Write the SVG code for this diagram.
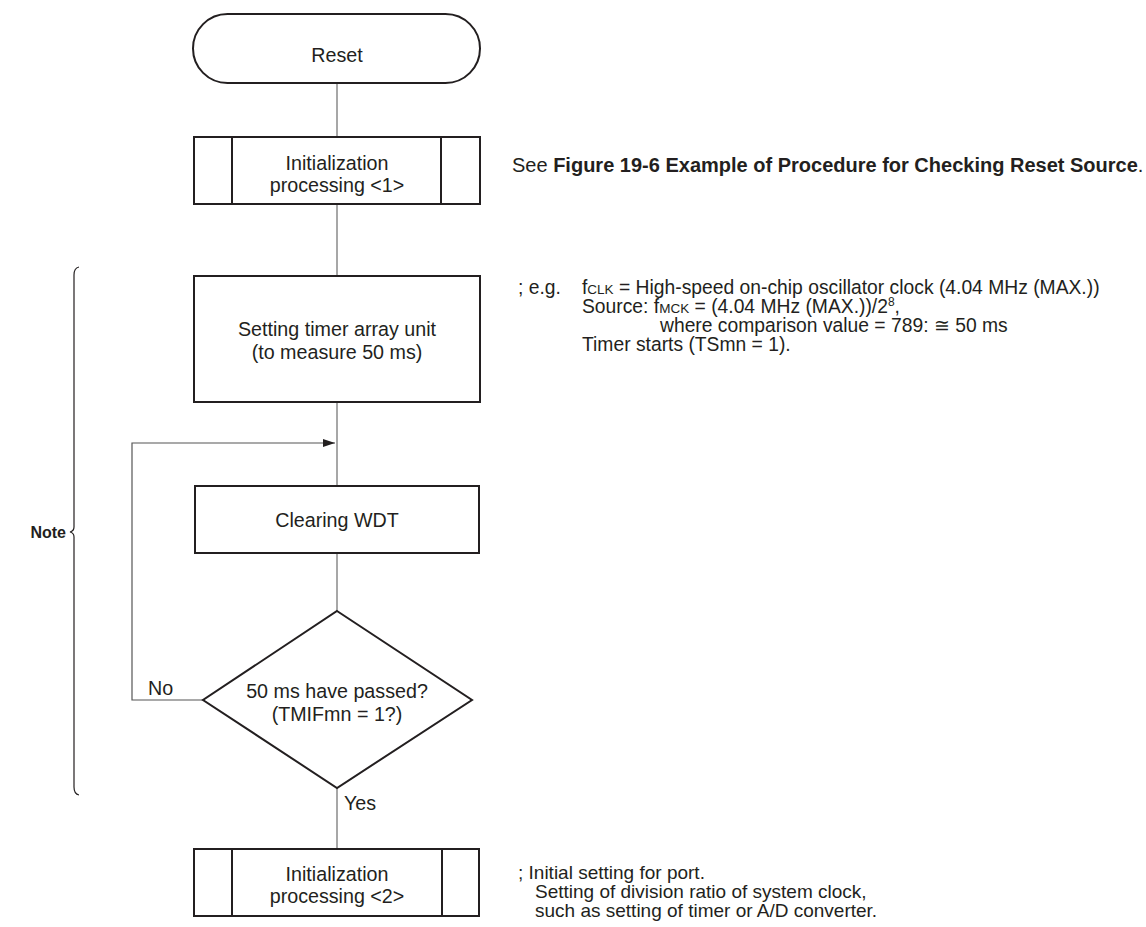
<svg xmlns="http://www.w3.org/2000/svg" width="1146" height="927" viewBox="0 0 1146 927">
<style>
text{font-family:"Liberation Sans",Arial,sans-serif;font-size:19.7px;fill:#231f20}
.c{text-anchor:middle}
.b{font-weight:bold}
.box{fill:#fff;stroke:#231f20;stroke-width:2}
.ln{fill:none;stroke:#8a8a8a;stroke-width:1.5}
.sm{font-size:13.5px}
.sup{font-size:12px}
.an{font-size:19.3px}
.an2{font-size:19px}
</style>
<defs>
<marker id="ah" markerWidth="12" markerHeight="8" refX="12" refY="4" orient="auto" markerUnits="userSpaceOnUse">
<path d="M0,0 L12,4 L0,8 z" fill="#231f20"/>
</marker>
</defs>
<rect width="1146" height="927" fill="#fff"/>
<g id="connectors">
<line class="ln" x1="337" y1="83" x2="337" y2="137"/>
<line class="ln" x1="337" y1="204" x2="337" y2="276"/>
<line class="ln" x1="337" y1="402" x2="337" y2="486"/>
<line class="ln" x1="337" y1="553" x2="337" y2="611"/>
<line class="ln" x1="337" y1="788" x2="337" y2="849"/>
<polyline fill="none" stroke="#555" stroke-width="1.2" points="203,700 132,700 132,443 335,443" marker-end="url(#ah)"/>
<text x="148" y="695">No</text>
<text x="344" y="810">Yes</text>
</g>
<g id="reset">
<rect class="box" x="193" y="14" width="287" height="69" rx="34.5" ry="34.5"/>
<text class="c" x="337" y="62">Reset</text>
</g>
<g id="init1">
<rect class="box" x="194" y="137" width="286" height="67"/>
<line class="box" x1="232" y1="137" x2="232" y2="204"/>
<line class="box" x1="441" y1="137" x2="441" y2="204"/>
<text class="c" x="337" y="170">Initialization</text>
<text class="c" x="337" y="192">processing &lt;1&gt;</text>
</g>
<g id="timer">
<rect class="box" x="194" y="276" width="286" height="126"/>
<text class="c" x="337" y="336">Setting timer array unit</text>
<text class="c" x="337" y="359">(to measure 50 ms)</text>
</g>
<g id="wdt">
<rect class="box" x="195" y="486" width="284" height="67"/>
<text class="c" x="337" y="527">Clearing WDT</text>
</g>
<g id="decision">
<polygon class="box" points="337,611 472,700 337,788 203,700"/>
<text class="c" x="337" y="698">50 ms have passed?</text>
<text class="c" x="337" y="721">(TMIFmn = 1?)</text>
</g>
<g id="init2">
<rect class="box" x="194" y="849" width="285" height="67"/>
<line class="box" x1="232" y1="849" x2="232" y2="916"/>
<line class="box" x1="442" y1="849" x2="442" y2="916"/>
<text class="c" x="337" y="881">Initialization</text>
<text class="c" x="337" y="903">processing &lt;2&gt;</text>
</g>
<g id="note">
<path d="M79,267 Q74,268 74,275 L74,527 Q74,531 70,532 Q74,533 74,537 L74,787 Q74,794 79,795" fill="none" stroke="#231f20" stroke-width="1.2"/>
<text class="b" x="66" y="538" style="text-anchor:end;font-size:16px">Note</text>
</g>
<g id="annotations">
<text x="512" y="172" style="font-size:20px">See <tspan class="b">Figure 19-6 Example of Procedure for Checking Reset Source</tspan>.</text>
<text class="an" x="518" y="294">;  e.g.</text>
<text class="an" x="582" y="294">f<tspan class="sm">CLK</tspan> = High-speed on-chip oscillator clock (4.04 MHz (MAX.))</text>
<text class="an" x="582" y="313">Source: f<tspan class="sm">MCK</tspan> = (4.04 MHz (MAX.))/2<tspan class="sup" dy="-7">8</tspan><tspan dy="7">,</tspan></text>
<text class="an" x="660" y="332">where comparison value = 789: ≅ 50 ms</text>
<text class="an" x="582" y="351">Timer starts (TSmn = 1).</text>
<text class="an2" x="518" y="879">;  Initial setting for port.</text>
<text class="an2" x="535" y="898">Setting of division ratio of system clock,</text>
<text class="an2" x="535" y="917">such as setting of timer or A/D converter.</text>
</g>
</svg>
